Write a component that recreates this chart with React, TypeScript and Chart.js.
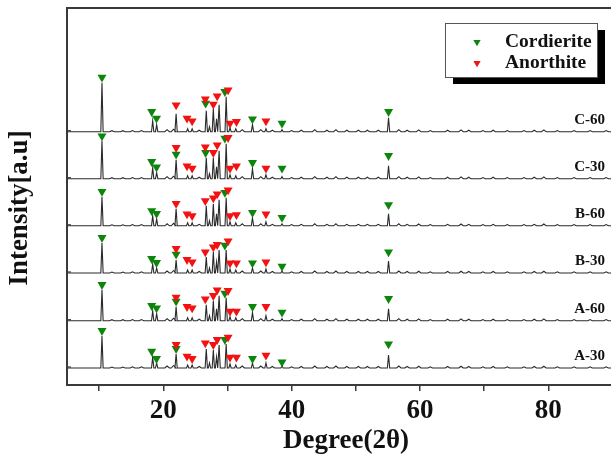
import React, { useEffect, useRef } from "react";
import { Chart, registerables } from "chart.js";

Chart.register(...registerables);

// ---- data ----
const SAMPLES = ["A-30", "A-60", "B-30", "B-60", "C-30", "C-60"];
const OFFSETS = [0, 47.3, 95, 142.2, 189.3, 236.3];

const X_MIN = 5;
const X_MAX = 92.1;
const X_TICKS = [10, 20, 30, 40, 50, 60, 70, 80, 90];

// main diffraction peaks (2θ)
const PEAK_POS = [10.45, 18.35, 18.97, 22.0, 23.8, 24.5, 26.7, 27.2, 27.8, 28.3, 28.7, 29.8, 30.4, 31.3, 33.9, 36.0, 38.5, 55.1];
// peak heights per sample
const H_A30 = [32, 11, 5, 14, 3, 3, 19, 5, 18, 11, 23, 24, 4, 3, 5, 5, 2, 13];
const H_A60 = [31, 10, 7, 14, 3, 3, 16, 5, 20, 12, 25, 23, 4, 3, 8, 5, 2, 12];
const H_B30 = [30, 9, 5, 13, 3, 3, 16, 5, 21, 11, 23, 23, 4, 3, 5, 4, 2, 12];
const H_B60 = [29, 10, 7, 17, 3, 3, 20, 5, 22, 12, 26, 28, 4, 3, 8, 4, 2, 12];
const H_C30 = [38, 11, 6, 19, 3, 3, 21, 5, 21, 12, 28, 35, 4, 3, 10, 4, 2, 13];
const H_C60 = [49, 11, 7, 18, 3, 3, 21, 5, 23, 13, 27, 35, 4, 3, 7, 3, 2, 14];
const PEAK_H = [H_A30, H_A60, H_B30, H_B60, H_C30, H_C60];

// small background reflections (shared)
const MINOR_POS = [12.0, 13.7, 15.2, 16.6, 20.6, 21.6, 25.6, 32.3, 35.2, 37.0, 40.0, 41.5, 43.6, 45.5, 46.9, 48.6, 50.4, 51.8, 53.5, 56.7, 58.0, 59.8, 61.6, 64.3, 66.4, 67.6, 69.8, 71.4, 73.6, 76.2, 77.8, 79.3, 81.4, 84.0, 86.5, 89.0];
const MINOR_H = [1, 1, 1.2, 1.2, 2, 2.5, 1.5, 2, 2, 1.5, 1.2, 1.5, 2, 1.5, 2, 1.5, 1.5, 1.5, 1.5, 2, 1.5, 1.8, 1.2, 1.5, 1.8, 1.5, 1.2, 1.5, 1.2, 1.2, 1.5, 1.8, 1.2, 1.2, 1.2, 1.2];

// phase markers: C = Cordierite, A = Anorthite
const MARK_POS = [10.45, 18.2, 18.95, 22.0, 22.0, 23.7, 24.5, 26.55, 26.6, 27.8, 28.4, 29.6, 30.1, 30.4, 31.4, 33.9, 36.0, 38.5, 55.1];
const MARK_PHASE = ["C", "C", "C", "C", "A", "A", "A", "A", "C", "A", "A", "C", "A", "A", "A", "C", "A", "C", "C"];
const M_A30 = [37.3, 16.7, 9.3, 19.3, 23.3, 11.7, 9.3, 25, null, 23.3, 28.3, 28.3, 30.7, 10.7, 10.7, 9.3, 12.7, 6, 24];
const M_A60 = [36, 15, 12.7, 19.3, 23.3, 14, 12.7, 21.7, null, 25, 30.7, 27.3, 30, 9.3, 9.3, 14, 14, 8.3, 22];
const M_B30 = [35.3, 14.3, 10.3, 18.7, 24.3, 13.3, 11, 21, null, 26, 28.3, 27.7, 32, 10, 10, 10, 11, 6.7, 21];
const M_B60 = [34.3, 15, 12.3, null, 22.3, 11.7, 10, 25, null, 27.7, 31.7, 33.3, 35.7, 10, 11, 13.3, 11.7, 8.3, 21];
const M_C30 = [42.7, 17, 11.5, 24.3, 31, 12.7, 10.3, 31.7, 26, 26, 33.7, 40.3, 41, 10.3, 12.7, 16, 10.3, 10.3, 23];
const M_C60 = [54.3, 20, 13.3, null, 26.7, 13.3, 10.7, 32.7, 28.3, 27.3, 35.7, 40, 41.7, 8.3, 10, 12.7, 10.7, 8.3, 20];
const MARK_H = [M_A30, M_A60, M_B30, M_B60, M_C30, M_C60];

const LEGEND = [
  { label: "Cordierite", phase: "C" },
  { label: "Anorthite", phase: "A" },
];

// ---- styles ----
const GREEN = "#0b860b";
const RED = "#f21212";
const LINE = "#2a2a2a";
const AXIS = "#3a3a3a";
const FONT = "'Liberation Serif', 'Times New Roman', serif";

function buildTrace(i: number) {
  const base = OFFSETS[i];
  const peaks: { p: number; h: number; w: number }[] = [];
  PEAK_POS.forEach((p, k) => peaks.push({ p, h: PEAK_H[i][k], w: 0.18 }));
  MINOR_POS.forEach((p, k) => peaks.push({ p, h: MINOR_H[k], w: 0.35 }));
  peaks.sort((a, b) => a.p - b.p);
  const pts: { x: number; y: number }[] = [{ x: X_MIN, y: base }];
  peaks.forEach((pk) => {
    pts.push({ x: pk.p - pk.w, y: base });
    pts.push({ x: pk.p, y: base + pk.h });
    pts.push({ x: pk.p + pk.w, y: base });
  });
  pts.push({ x: X_MAX, y: base });
  return pts;
}

function buildMarkers(phase: string) {
  const pts: { x: number; y: number }[] = [];
  SAMPLES.forEach((_, i) => {
    MARK_POS.forEach((p, k) => {
      const h = MARK_H[i][k];
      if (MARK_PHASE[k] === phase && h !== null) pts.push({ x: p, y: OFFSETS[i] + (h as number) });
    });
  });
  return pts;
}

function drawTri(ctx: CanvasRenderingContext2D, x: number, y: number, r: number, color: string) {
  ctx.beginPath();
  ctx.moveTo(x - r * 0.866, y - r * 0.5);
  ctx.lineTo(x + r * 0.866, y - r * 0.5);
  ctx.lineTo(x, y + r);
  ctx.closePath();
  ctx.fillStyle = color;
  ctx.fill();
}

const decorPlugin = {
  id: "decor",
  afterDraw(chart: any) {
    const ctx: CanvasRenderingContext2D = chart.ctx;
    const { left, top, bottom } = chart.chartArea;
    const ys = chart.scales.y;
    ctx.save();
    // frame
    ctx.strokeStyle = AXIS;
    ctx.lineWidth = 2;
    ctx.beginPath();
    ctx.moveTo(chart.width, top);
    ctx.lineTo(left, top);
    ctx.lineTo(left, bottom);
    ctx.lineTo(chart.width, bottom);
    ctx.stroke();
    // inward y ticks
    ctx.lineWidth = 1.2;
    OFFSETS.forEach((o) => {
      const py = ys.getPixelForValue(o + 1);
      ctx.beginPath();
      ctx.moveTo(left, py);
      ctx.lineTo(left + 4, py);
      ctx.stroke();
    });
    // sample labels
    ctx.fillStyle = "#111";
    ctx.font = `bold 15px ${FONT}`;
    ctx.textAlign = "right";
    ctx.textBaseline = "middle";
    SAMPLES.forEach((s, i) => {
      ctx.fillText(s, 605, ys.getPixelForValue(OFFSETS[i] + 11.5));
    });
    // axis titles
    ctx.font = `bold 27px ${FONT}`;
    ctx.textAlign = "center";
    ctx.textBaseline = "middle";
    ctx.fillText("Degree(2\u03b8)", 346, 441);
    ctx.save();
    ctx.translate(20, 208);
    ctx.rotate(-Math.PI / 2);
    ctx.fillText("Intensity[a.u]", 0, 0);
    ctx.restore();
    // legend
    const bx = 445, by = 23, bw = 152, bh = 54;
    ctx.fillStyle = "#000";
    ctx.fillRect(bx + 8, by + 7, bw, bh);
    ctx.fillStyle = "#fff";
    ctx.fillRect(bx, by, bw, bh);
    ctx.strokeStyle = "#555";
    ctx.lineWidth = 1;
    ctx.strokeRect(bx + 0.5, by + 0.5, bw, bh);
    ctx.font = `bold 19.5px ${FONT}`;
    ctx.textAlign = "left";
    LEGEND.forEach((it, i) => {
      const cy = 42 + i * 21;
      drawTri(ctx, 477, cy, 4.2, it.phase === "C" ? GREEN : RED);
      ctx.fillStyle = "#111";
      ctx.fillText(it.label, 505, cy);
    });
    ctx.restore();
  },
};

export default function App() {
  const ref = useRef<HTMLCanvasElement | null>(null);
  useEffect(() => {
    if (!ref.current) return;
    const traceSets = SAMPLES.map((s, i) => ({
      label: s,
      data: buildTrace(i),
      showLine: true,
      borderColor: LINE,
      borderWidth: 1.1,
      pointRadius: 0,
      tension: 0,
      fill: false,
      order: 3,
    }));
    const markerSet = (phase: string, color: string, order: number) => ({
      label: phase,
      data: buildMarkers(phase),
      showLine: false,
      pointStyle: "triangle",
      rotation: 180,
      pointRadius: 5.2,
      pointBackgroundColor: color,
      pointBorderWidth: 0,
      pointBorderColor: color,
      order,
    });
    const chart = new Chart(ref.current, {
      type: "scatter",
      data: { datasets: [...traceSets, markerSet("C", GREEN, 2), markerSet("A", RED, 1)] as any },
      plugins: [decorPlugin],
      options: {
        animation: false,
        responsive: false,
        events: [],
        layout: { padding: { left: 67, top: 8, right: 14, bottom: 0 } },
        plugins: { legend: { display: false }, tooltip: { enabled: false } },
        scales: {
          x: {
            type: "linear",
            position: "bottom",
            min: X_MIN,
            max: X_MAX,
            afterBuildTicks: (scale: any) => {
              scale.ticks = X_TICKS.map((v) => ({ value: v }));
            },
            afterFit: (scale: any) => {
              scale.height = 75;
            },
            border: { display: false },
            grid: {
              display: true,
              drawOnChartArea: false,
              drawTicks: true,
              tickLength: 6,
              color: AXIS,
              lineWidth: 1.5,
            },
            ticks: {
              autoSkip: false,
              maxRotation: 0,
              padding: 4,
              color: "#111",
              font: { family: FONT, size: 27, weight: "bold" },
              callback: (v: any) => (Number(v) % 20 === 0 ? String(v) : ""),
            },
          },
          y: {
            type: "linear",
            display: false,
            min: -17,
            max: 360,
          },
        },
      } as any,
    });
    return () => chart.destroy();
  }, []);
  return (
    <div style={{ position: "fixed", left: 0, top: 0, width: 611, height: 460, overflow: "hidden", background: "#fff" }}>
      <canvas ref={ref} width={640} height={460} style={{ display: "block" }} />
    </div>
  );
}
